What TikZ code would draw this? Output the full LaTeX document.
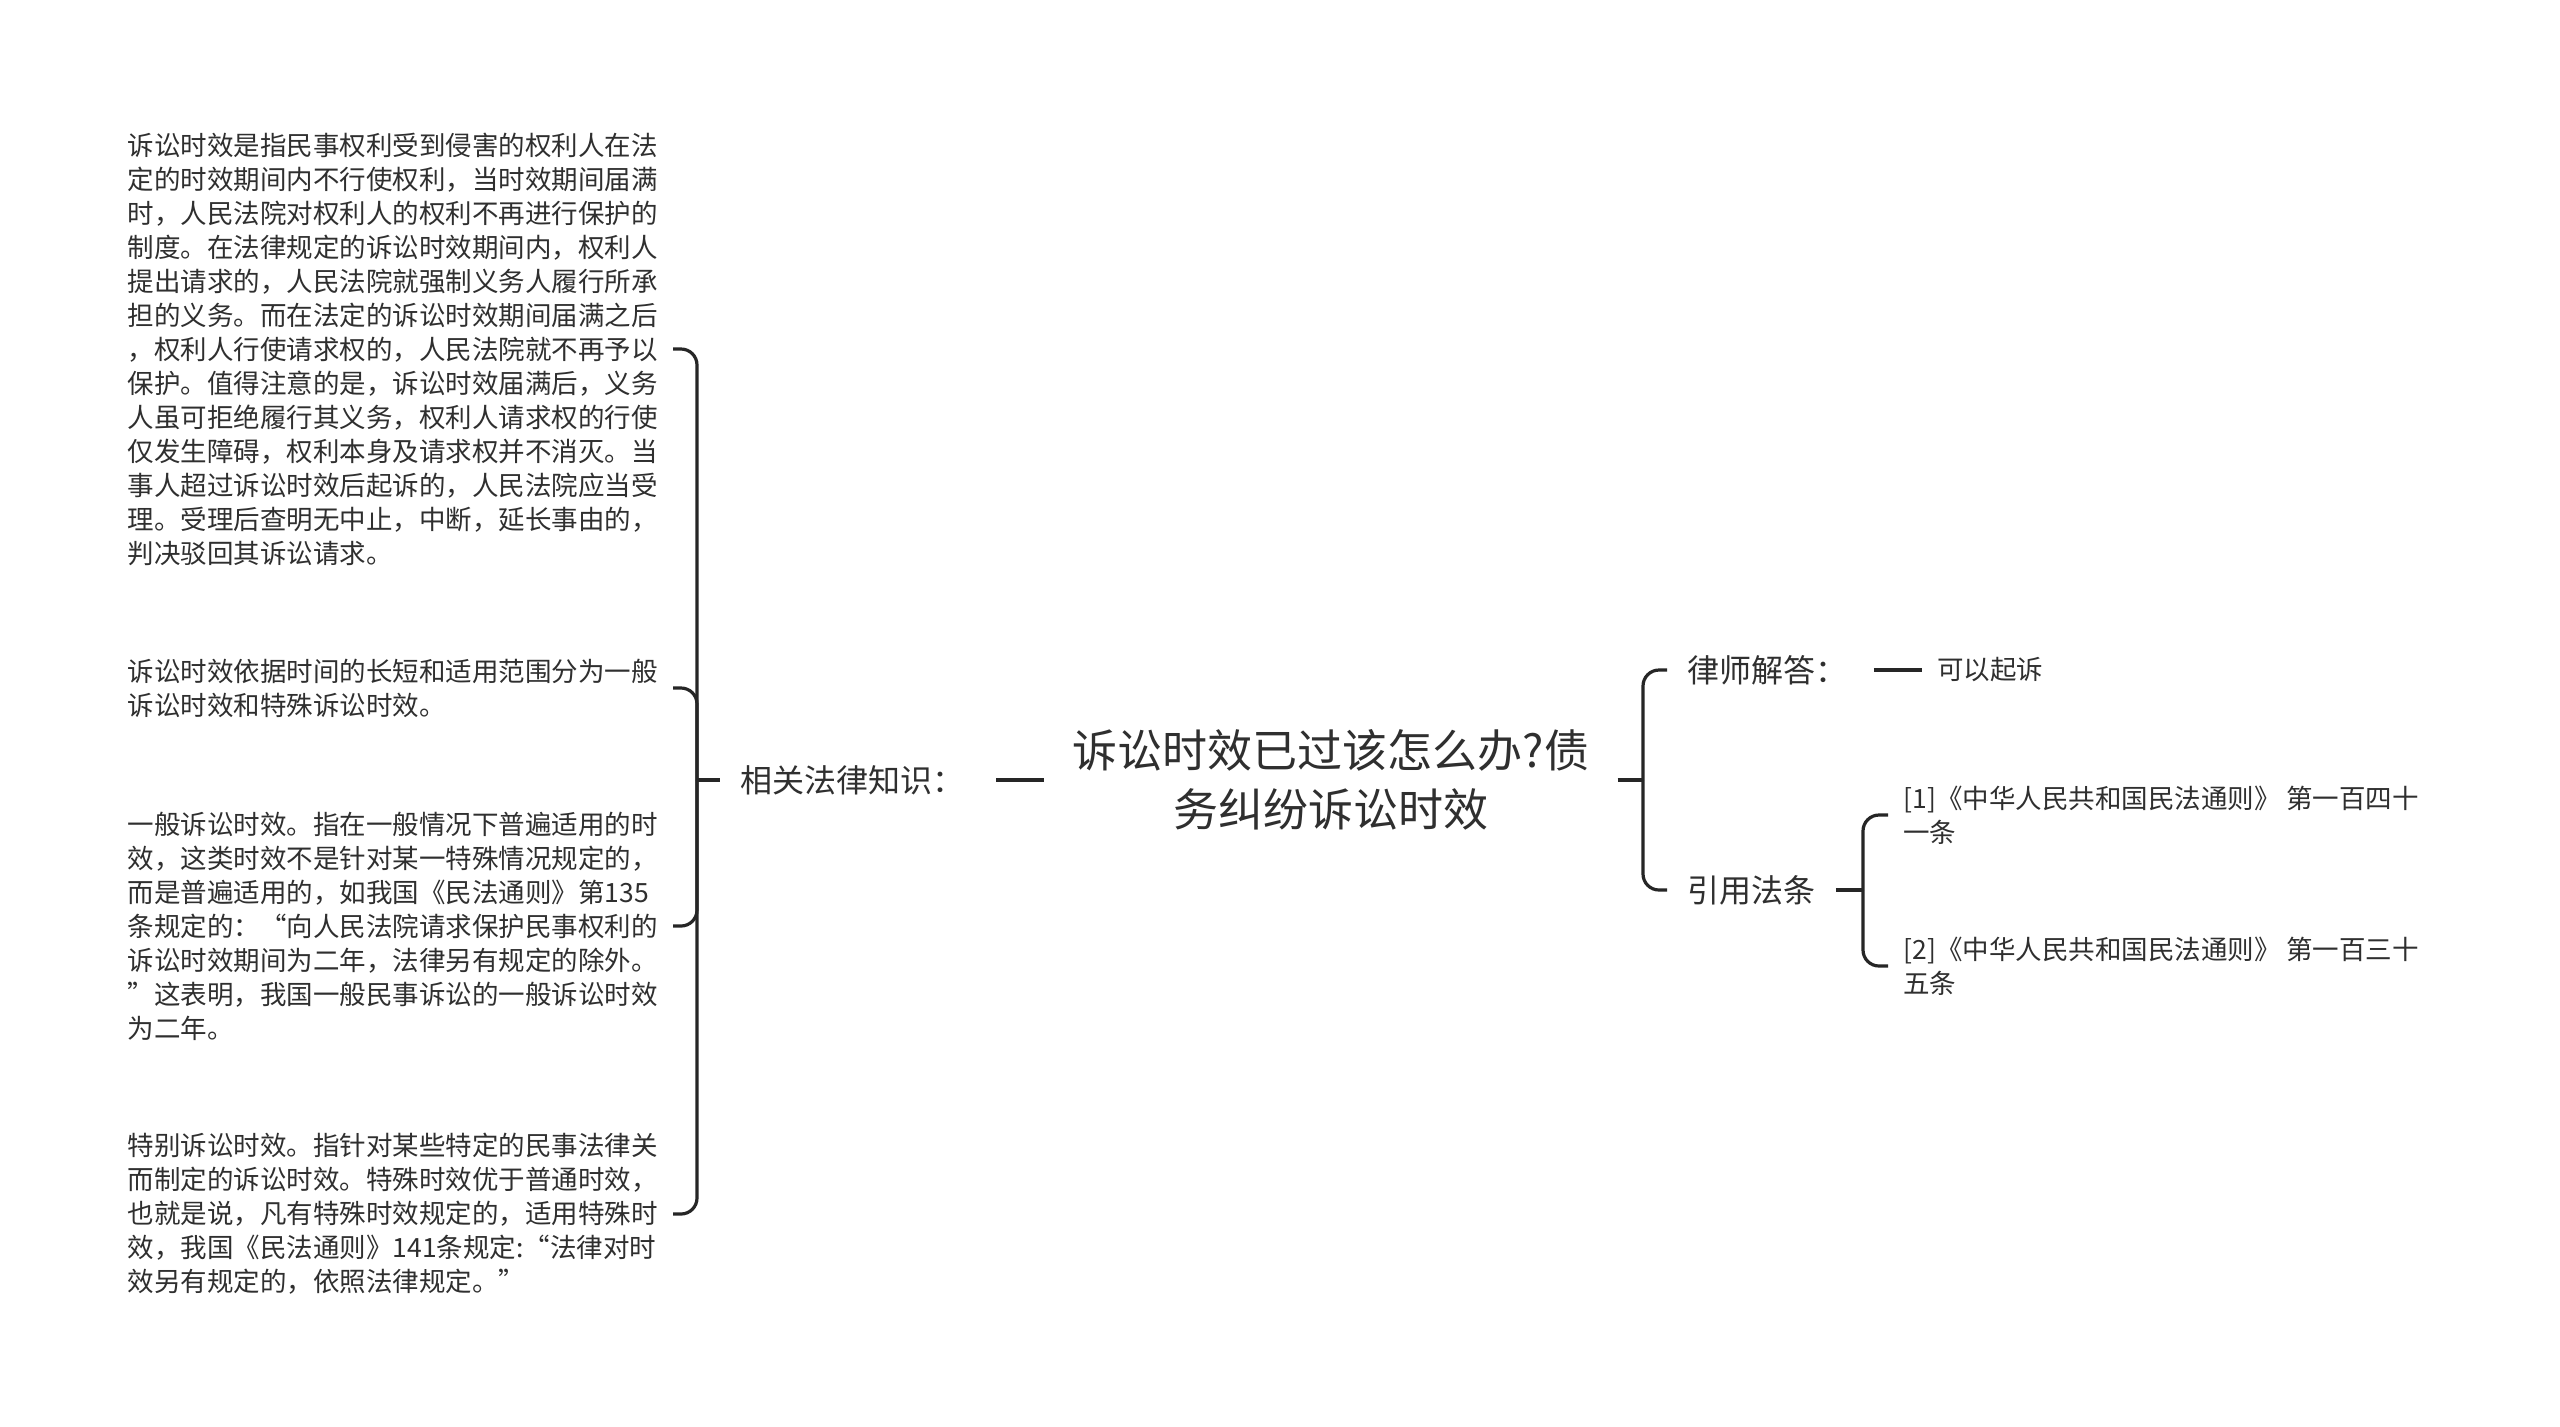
\documentclass[tikz,border=0pt]{standalone}
\usepackage{fontspec}
\setmainfont{Noto Sans CJK SC}
\usetikzlibrary{positioning}
\definecolor{mapInk}{HTML}{2F2F2F}
\definecolor{mapLine}{HTML}{262626}
\tikzset{
  boxRoot/.style={align=center, text=mapInk, inner xsep=14pt, inner ysep=4pt,
                  font=\fontsize{22.5}{29.5}\selectfont},
  boxBranch/.style={text=mapInk, inner xsep=10pt, inner ysep=4pt,
                    font=\fontsize{16}{20}\selectfont},
  boxLeaf/.style={align=left, text=mapInk, inner xsep=7.5pt, inner ysep=3pt,
                  font=\fontsize{13.25}{17}\selectfont},
  lineD/.style={draw=mapLine, line width=1.6pt},
  lineC/.style={lineD, rounded corners=8pt},
}
\begin{document}
\begin{tikzpicture}[x=0.5pt, y=-0.5pt, node distance=30pt]
    \fill[white] (0,0) rectangle (2560,1426);
    \useasboundingbox (0,0) rectangle (2560,1426);
    % centre
    \node[boxRoot] (root) at (1331,780) {诉讼时效已过该怎么办?债\\务纠纷诉讼时效};
    % left side
    \node[boxBranch, left=of root] (rel) {相关法律知识：};
    \node[boxLeaf, anchor=east] (kn1) at (673,349)
      {诉讼时效是指民事权利受到侵害的权利人在法\\定的时效期间内不行使权利，当时效期间届满\\时，人民法院对权利人的权利不再进行保护的\\制度。在法律规定的诉讼时效期间内，权利人\\提出请求的，人民法院就强制义务人履行所承\\担的义务。而在法定的诉讼时效期间届满之后\\，权利人行使请求权的，人民法院就不再予以\\保护。值得注意的是，诉讼时效届满后，义务\\人虽可拒绝履行其义务，权利人请求权的行使\\仅发生障碍，权利本身及请求权并不消灭。当\\事人超过诉讼时效后起诉的，人民法院应当受\\理。受理后查明无中止，中断，延长事由的，\\判决驳回其诉讼请求。};
    \node[boxLeaf, anchor=east] (kn2) at (673,688)
      {诉讼时效依据时间的长短和适用范围分为一般\\诉讼时效和特殊诉讼时效。};
    \node[boxLeaf, anchor=east] (kn3) at (673,926)
      {一般诉讼时效。指在一般情况下普遍适用的时\\效，这类时效不是针对某一特殊情况规定的，\\而是普遍适用的，如我国《民法通则》第135\\条规定的：“向人民法院请求保护民事权利的\\诉讼时效期间为二年，法律另有规定的除外。\\”这表明，我国一般民事诉讼的一般诉讼时效\\为二年。};
    \node[boxLeaf, anchor=east] (kn4) at (673,1214)
      {特别诉讼时效。指针对某些特定的民事法律关\\而制定的诉讼时效。特殊时效优于普通时效，\\也就是说，凡有特殊时效规定的，适用特殊时\\效，我国《民法通则》141条规定:“法律对时\\效另有规定的，依照法律规定。”};
    % right side
    \node[boxBranch, anchor=west] (lawyer) at (1667,670) {律师解答：};
    \node[boxLeaf, right=27pt of lawyer] (answer) {可以起诉};
    \node[boxBranch, anchor=west] (cite) at (1667,890) {引用法条};
    \node[boxLeaf, anchor=west] (law1) at (1888,815)
      {[1]《中华人民共和国民法通则》 第一百四十\\一条};
    \node[boxLeaf, anchor=west] (law2) at (1888,966)
      {[2]《中华人民共和国民法通则》 第一百三十\\五条};
    % junctions
    \coordinate (lj) at (697,780);
    \coordinate (rj) at (1643,780);
    \coordinate (cj) at (1863,890);
    % connectors
    \draw[lineD, shorten <=6pt] (rel.east) -- (root.west);
    \draw[lineD] (rel.west) -- (lj);
    \foreach \k in {kn1,kn2,kn3,kn4}
      \draw[lineC] (lj) |- (\k.east);
    \draw[lineD] (root.east) -- (rj);
    \foreach \k in {lawyer,cite}
      \draw[lineC] (rj) |- (\k.west);
    \draw[lineD, shorten <=3pt] (lawyer.east) -- (answer.west);
    \draw[lineD] (cite.east) -- (cj);
    \foreach \k in {law1,law2}
      \draw[lineC] (cj) |- (\k.west);
\end{tikzpicture}
\end{document}
